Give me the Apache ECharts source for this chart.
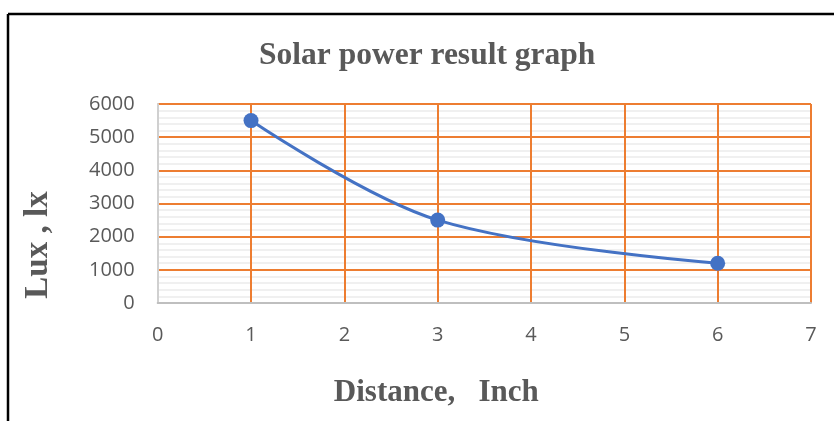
<!DOCTYPE html>
<html>
<head>
<meta charset="utf-8">
<script src="https://cdn.jsdelivr.net/npm/echarts@6/dist/echarts.min.js"></script>
<style>html,body{margin:0;padding:0;background:#fff;}#c{width:834px;height:421px;}</style>
</head>
<body>
<div id="c"></div>
<script>
const titleText = 'Solar power result graph';
const xName = 'Distance,   Inch';
const yName = 'Lux , lx';
const distance = [1, 3, 6];
const lux = [5500, 2500, 1200];
const xTicks = [0, 1, 2, 3, 4, 5, 6, 7];
const yTicks = [0, 1000, 2000, 3000, 4000, 5000, 6000];

const chart = echarts.init(document.getElementById('c'), null, {renderer: 'canvas'});
const serif = '"Liberation Serif", "DejaVu Serif", serif';
const sans = '"Open Sans", "Liberation Sans", sans-serif';
chart.setOption({
  animation: false,
  backgroundColor: '#fff',
  title: {
    text: titleText,
    left: 254, top: 35,
    textStyle: {fontFamily: serif, fontWeight: 'bold', fontSize: 31.5, color: '#595959'}
  },
  graphic: [
    {type: 'line', shape: {x1: 8, y1: 14, x2: 834, y2: 14}, style: {stroke: '#000', lineWidth: 2.5}},
    {type: 'line', shape: {x1: 8, y1: 14, x2: 8, y2: 421}, style: {stroke: '#000', lineWidth: 2.5}}
  ],
  grid: {left: 157.7, right: 23, top: 104, bottom: 118, containLabel: false},
  xAxis: {
    type: 'value', min: xTicks[0], max: xTicks[xTicks.length - 1], interval: 1,
    name: xName, nameLocation: 'middle', nameGap: 74,
    nameTextStyle: {fontFamily: serif, fontWeight: 'bold', fontSize: 31, color: '#595959', padding: [0, 96, 0, 0]},
    axisLine: {show: true, lineStyle: {color: '#bfbfbf', width: 2}},
    axisTick: {show: false},
    axisLabel: {margin: 22, fontFamily: sans, fontSize: 20, color: '#595959'},
    splitLine: {show: true, showMinLine: false, lineStyle: {color: '#ED7D31', width: 2}}
  },
  yAxis: {
    type: 'value', min: yTicks[0], max: yTicks[yTicks.length - 1], interval: 1000,
    name: yName, nameLocation: 'middle', nameGap: 103,
    nameTextStyle: {fontFamily: serif, fontWeight: 'bold', fontSize: 33, color: '#595959', padding: [0, 83, 0, 0]},
    axisLine: {show: true, lineStyle: {color: '#d0d0d0', width: 2}},
    axisTick: {show: false},
    axisLabel: {margin: 23, fontFamily: sans, fontSize: 20, color: '#595959', formatter: v => String(v)},
    minorTick: {show: false, splitNumber: 5},
    minorSplitLine: {show: true, lineStyle: {color: '#ebebeb', width: 1.5}},
    splitLine: {show: true, showMinLine: false, lineStyle: {color: '#ED7D31', width: 2}}
  },
  series: [{
    type: 'line',
    data: distance.map((d, i) => [d, lux[i]]),
    smooth: 0.35,
    symbol: 'circle', symbolSize: 15,
    itemStyle: {color: '#4472C4'},
    lineStyle: {color: '#4472C4', width: 3},
    z: 5
  }]
});
</script>
</body>
</html>
